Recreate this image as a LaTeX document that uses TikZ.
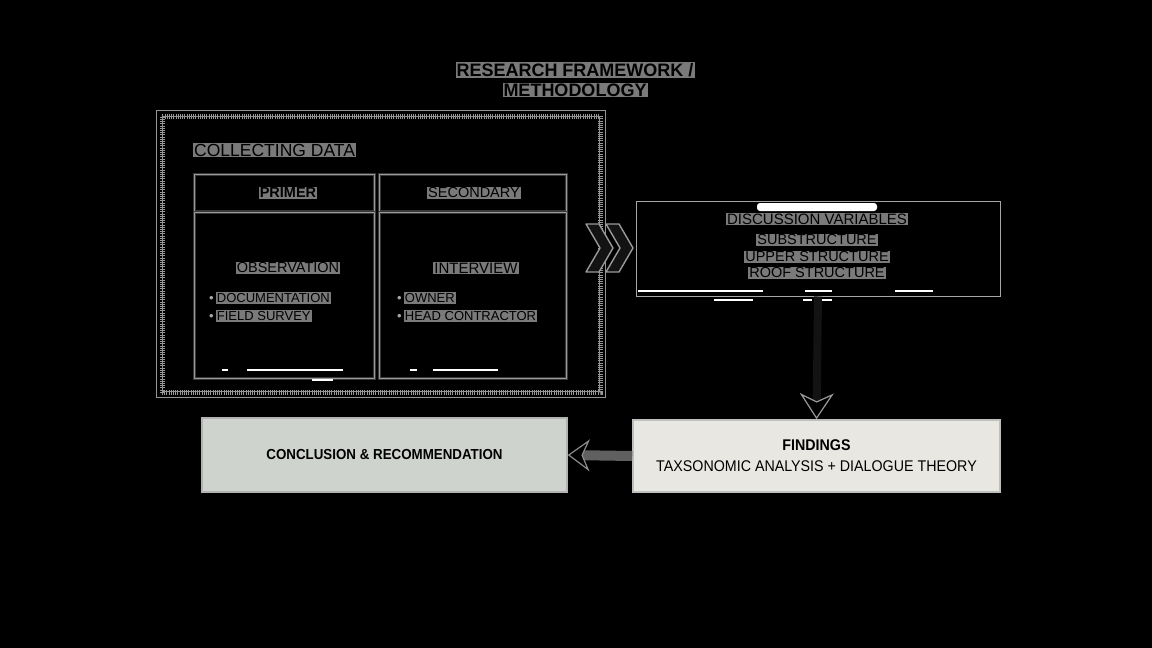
\documentclass[tikz,border=0pt]{standalone}
\usepackage{fontspec}
\setmainfont{Liberation Sans}
\newfontfamily\narrowfont[FakeStretch=0.92]{Liberation Sans}
\usetikzlibrary{arrows.meta}
\definecolor{hl}{HTML}{7A7A7A}
\definecolor{conclfill}{HTML}{CFD3CD}
\definecolor{findfill}{HTML}{E9E7E1}
\setlength{\fboxsep}{1pt}
\newcommand{\hlword}[1]{\colorbox{hl}{\color{black}#1}}
\begin{document}
\begin{tikzpicture}[x=1pt,y=-1pt,
  lbl/.style={fill=hl, text=black, inner sep=1pt},
  bul/.style={text=gray!70, inner sep=0pt, anchor=west, font=\fontsize{13}{15}\selectfont},
  colbox/.style={draw=gray!45!black, line width=3pt, inner sep=0pt,
                 postaction={draw=gray!80, line width=0.6pt}},
  artifact/.style={draw=white, line width=1.4pt},
]
\fill[black] (0,0) rectangle (1152,648);
\useasboundingbox (0,0) rectangle (1152,648);

% title
\node[lbl, font=\fontsize{18}{20}\selectfont\bfseries] (title1) at (575,70) {RESEARCH FRAMEWORK /};
\node[lbl, font=\fontsize{18}{20}\selectfont\bfseries] (title2) at (575,90) {METHODOLOGY};

% collecting data frame
\node[draw=gray!80, line width=5pt, dash pattern=on 1pt off 1.2pt,
      minimum width=438pt, minimum height=276pt, inner sep=0pt] (collect) at (381,254) {};
\draw[gray!85, line width=0.8pt] ([shift={(-3,-3)}]collect.north west) rectangle ([shift={(3,3)}]collect.south east);
\draw[gray!85, line width=0.8pt] ([shift={(3,3)}]collect.north west) rectangle ([shift={(-3,-3)}]collect.south east);
\node[lbl, anchor=west, font=\fontsize{17.5}{20}\selectfont] (colltext) at (193,150) {COLLECTING DATA};

% columns
\node[colbox, minimum width=180pt, minimum height=37pt] (primhead) at (284,193) {};
\node[colbox, minimum width=180pt, minimum height=166pt] (primbody) at (284,295) {};
\node[colbox, minimum width=187pt, minimum height=37pt] (sechead) at (473,193) {};
\node[colbox, minimum width=187pt, minimum height=166pt] (secbody) at (473,295) {};

\node[lbl, font=\fontsize{14.5}{16}\selectfont\bfseries] (primer) at (288,193) {PRIMER};
\node[lbl, font=\fontsize{14.5}{16}\selectfont] (secondary) at (474,193) {SECONDARY};
\node[lbl, font=\fontsize{14.5}{16}\selectfont] (observation) at (288,268) {OBSERVATION};
\node[lbl, font=\fontsize{15}{16}\selectfont] (interview) at (476,268) {INTERVIEW};

\node[bul] (doc) at (209,298) {\textbullet\,\hlword{DOCUMENTATION}};
\node[bul] (field) at (209,316) {\textbullet\,\hlword{FIELD SURVEY}};
\node[bul] (owner) at (397,298) {\textbullet\,\hlword{OWNER}};
\node[bul] (head) at (397,316) {\textbullet\,\hlword{HEAD CONTRACTOR}};

% artifact strokes at the bottom of the columns
\draw[artifact] (222,370) -- (228,370);
\draw[artifact] (247,370) -- (343,370);
\draw[artifact] (312,380) -- (333,380);
\draw[artifact] (410,370) -- (417,370);
\draw[artifact] (433,370) -- (498,370);

% chevrons
\foreach \dx in {0,20}{
  \draw[fill=black!85!gray, draw=gray!80, line width=1.4pt, line join=round]
    (586+\dx,224) -- (599+\dx,224) -- (613+\dx,248) -- (599+\dx,272) -- (586+\dx,272) -- (600+\dx,248) -- cycle;
}

% discussion box
\fill[white, rounded corners=3pt] (757,203) rectangle (877,211);
\node[draw=gray!70, line width=1pt, minimum width=364pt, minimum height=95pt, inner sep=0pt] (disc) at (818,248.5) {};
\node[lbl, font=\fontsize{15}{17}\selectfont] (discA) at (817,219) {DISCUSSION VARIABLES};
\node[lbl, font=\fontsize{14.5}{17}\selectfont] (discB) at (817,240) {SUBSTRUCTURE};
\node[lbl, font=\fontsize{14.5}{17}\selectfont] (discC) at (817,257) {UPPER STRUCTURE};
\node[lbl, font=\fontsize{14.5}{17}\selectfont] (discD) at (817,273) {ROOF STRUCTURE};
\draw[artifact] (638,291) -- (763,291);
\draw[artifact] (805,291) -- (832,291);
\draw[artifact] (895,291) -- (933,291);
\draw[artifact] (714,300) -- (753,300);
\draw[artifact] (803,300) -- (812,300);
\draw[artifact] (822,300) -- (832,300);

% lower boxes
\node[fill=conclfill, draw=gray!60, line width=1.5pt, minimum width=365pt, minimum height=74pt,
      font=\narrowfont\fontsize{14.5}{17}\selectfont\bfseries, text=black] (concl) at (384.5,455) {CONCLUSION \& RECOMMENDATION};
\node[fill=findfill, draw=gray!50, line width=1.5pt, minimum width=367pt, minimum height=72pt,
      align=center, font=\narrowfont\fontsize{15.5}{21}\selectfont, text=black] (find) at (816.5,456)
      {{\bfseries FINDINGS}\\TAXSONOMIC ANALYSIS + DIALOGUE THEORY};

% connectors
\draw[line width=8pt, black!85!gray,
      -{Stealth[width=34pt,length=26pt,inset=8pt,line width=1.2pt,color=gray!80,fill=black]}]
      (disc.south) -- (find.north);
\draw[line width=10pt, gray!75!black,
      -{Stealth[width=32pt,length=22pt,inset=7pt,line width=1.2pt,color=gray!90,fill=black]}]
      (find.west) -- (concl.east);
\end{tikzpicture}
\end{document}
